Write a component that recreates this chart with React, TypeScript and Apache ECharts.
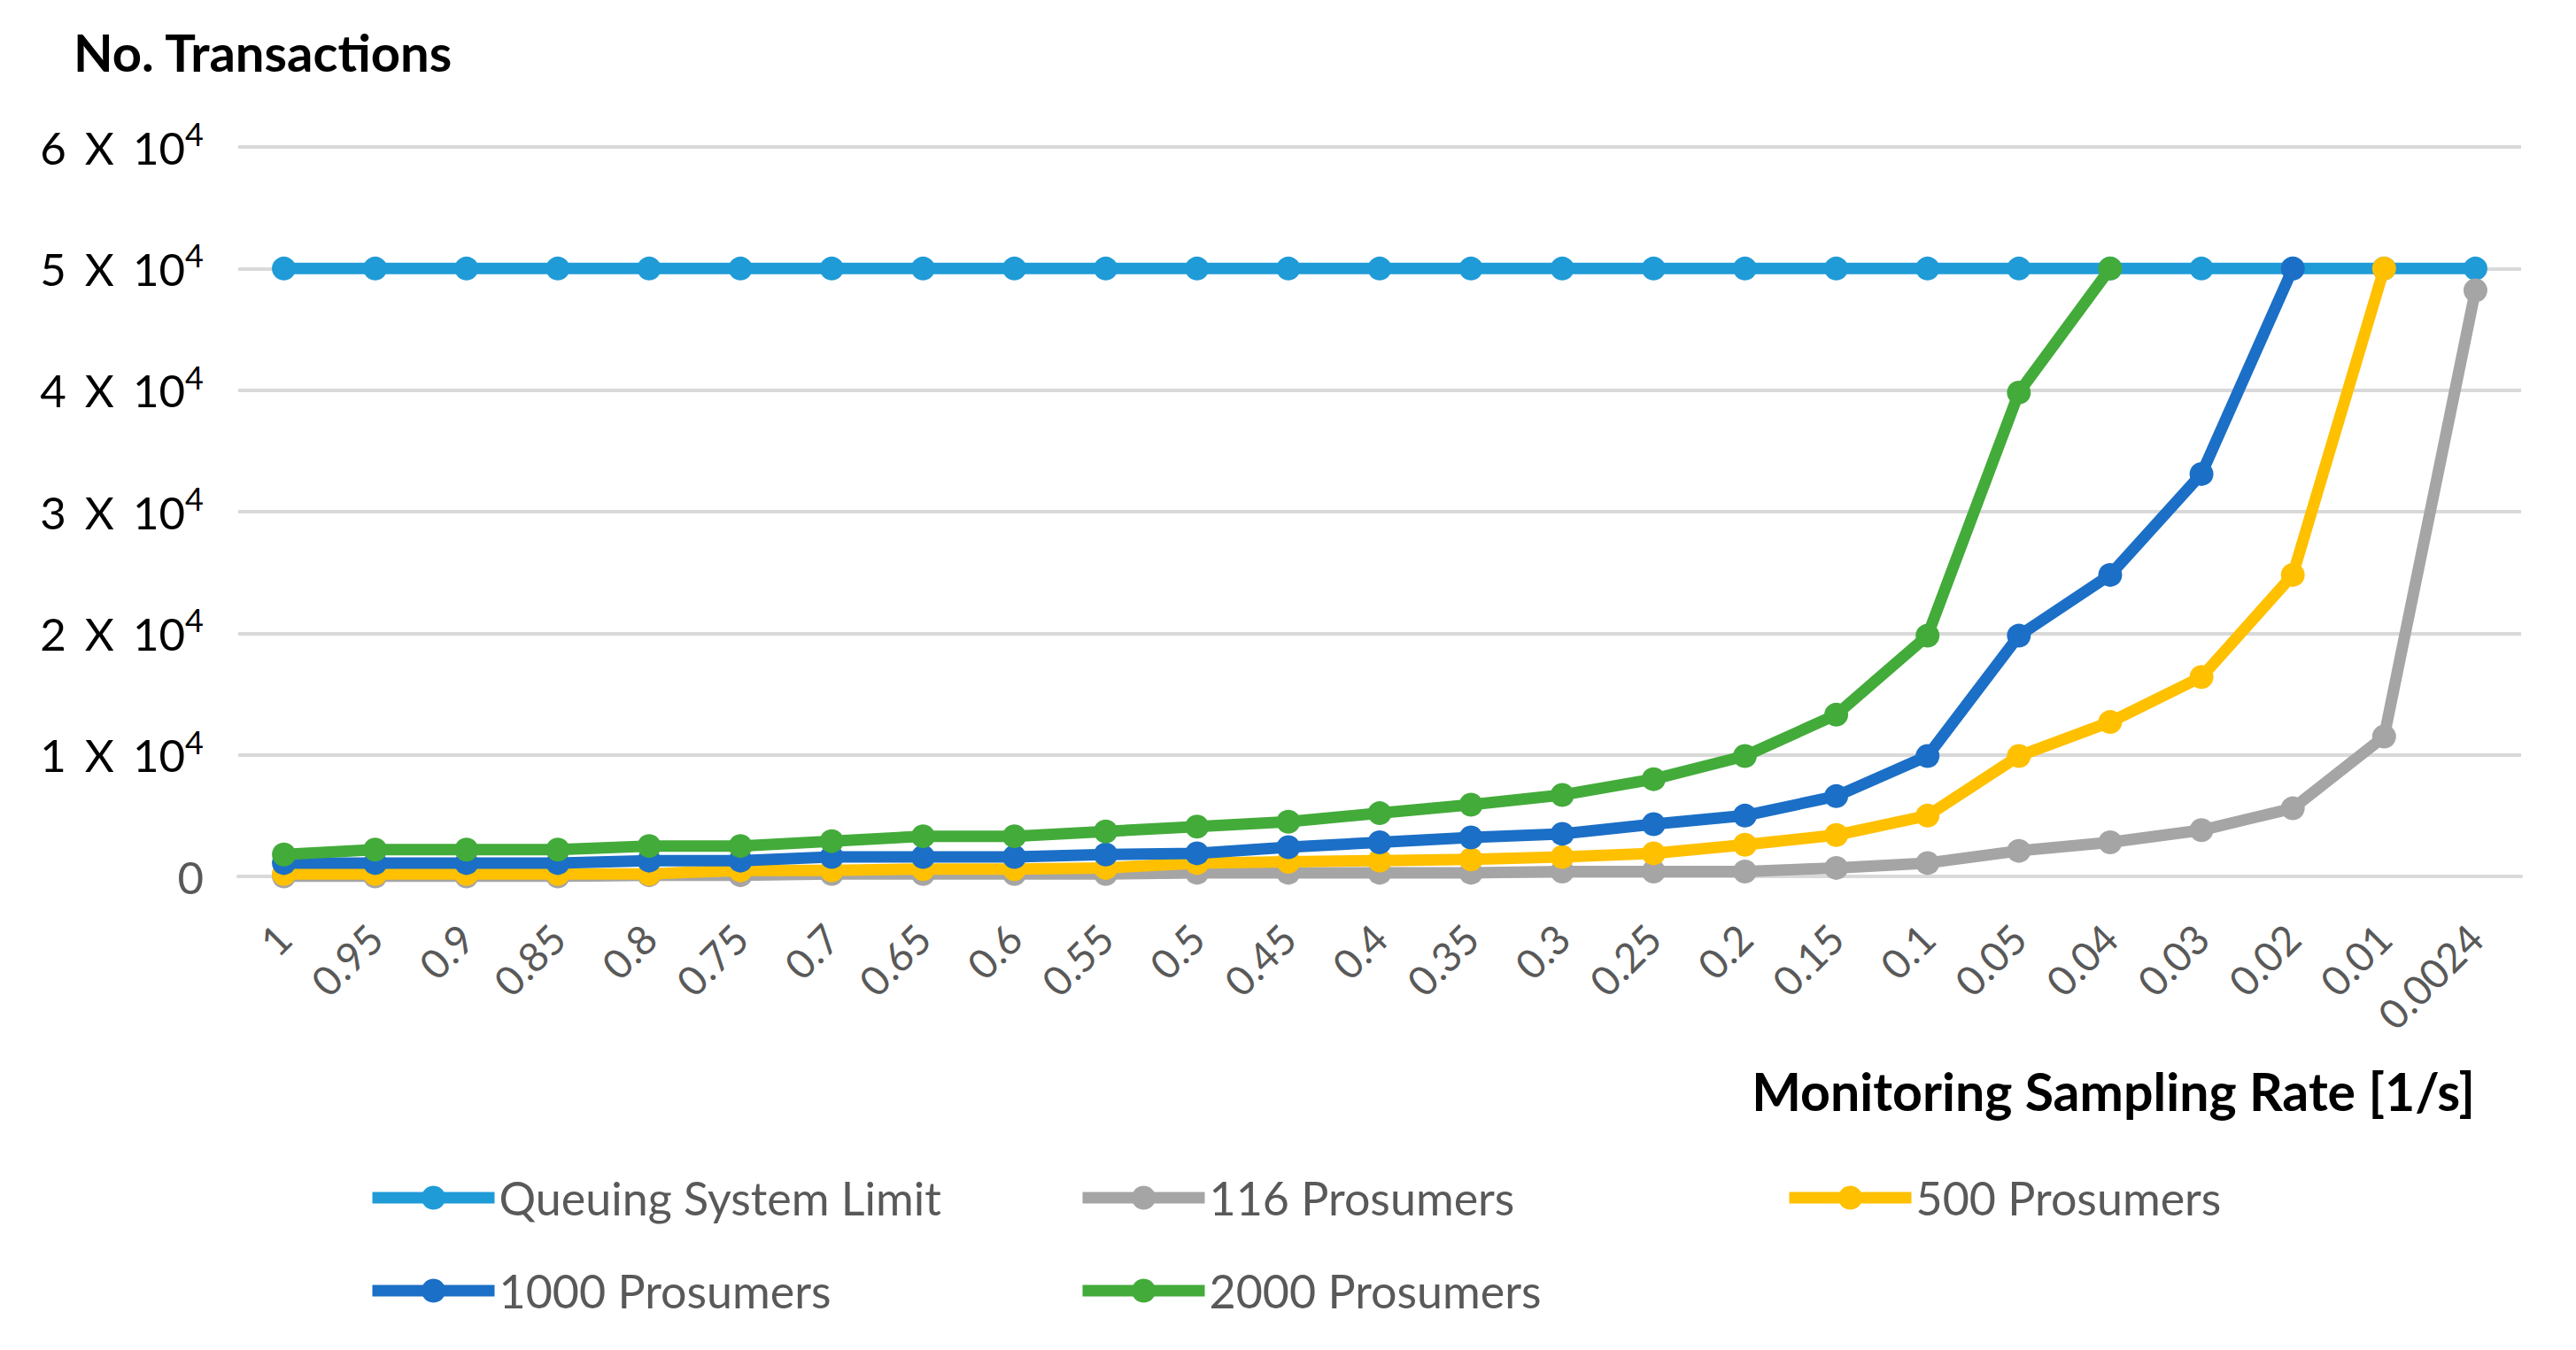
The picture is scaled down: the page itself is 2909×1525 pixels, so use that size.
import React, { useEffect, useRef } from "react";
import * as echarts from "echarts";

const categories = [
  "1", "0.95", "0.9", "0.85", "0.8", "0.75", "0.7", "0.65", "0.6", "0.55",
  "0.5", "0.45", "0.4", "0.35", "0.3", "0.25", "0.2", "0.15", "0.1", "0.05",
  "0.04", "0.03", "0.02", "0.01", "0.0024",
];

const queuingLimit = [
  50000, 50000, 50000, 50000, 50000, 50000, 50000, 50000, 50000, 50000,
  50000, 50000, 50000, 50000, 50000, 50000, 50000, 50000, 50000, 50000,
  50000, 50000, 50000, 50000, 50000,
];

const prosumers116 = [
  0, 0, 0, 0, 100, 100, 200, 200, 200, 200,
  300, 300, 300, 300, 400, 400, 400, 700, 1100, 2100,
  2800, 3800, 5600, 11500, 48200,
];

const prosumers500 = [
  200, 200, 200, 200, 200, 500, 500, 600, 600, 700,
  1100, 1200, 1300, 1400, 1600, 1900, 2600, 3400, 5000, 9900,
  12700, 16400, 24800, 50000, null,
];

const prosumers1000 = [
  1100, 1100, 1100, 1100, 1300, 1300, 1600, 1600, 1600, 1800,
  1900, 2400, 2800, 3200, 3500, 4300, 5000, 6600, 9900, 19800,
  24800, 33100, 50000, null, null,
];

const prosumers2000 = [
  1800, 2200, 2200, 2200, 2500, 2500, 2900, 3300, 3300, 3700,
  4100, 4500, 5200, 5900, 6700, 8000, 9900, 13300, 19800, 39800,
  50000, null, null, null, null,
];

const yTickMantissas = ["0", "1", "2", "3", "4", "5", "6"];
const yExponent = "4";

const seriesNames = [
  "Queuing System Limit",
  "116 Prosumers",
  "500 Prosumers",
  "1000 Prosumers",
  "2000 Prosumers",
];
const seriesColors = ["#1F9BD7", "#A5A5A5", "#FFC000", "#1B6FC6", "#43AB3A"];
const seriesData = [queuingLimit, prosumers116, prosumers500, prosumers1000, prosumers2000];

const FONT = "Lato";

export default function App() {
  const ref = useRef<HTMLDivElement>(null);

  useEffect(() => {
    document.body.style.margin = "0";
    if (!ref.current) return;
    const chart = echarts.init(ref.current, undefined, { renderer: "svg" });

    const legendPos = [
      { left: 414, center: 1353 },
      { left: 1216, center: 1353 },
      { left: 2014, center: 1353 },
      { left: 414, center: 1458 },
      { left: 1216, center: 1458 },
    ];

    const option: any = {
      animation: false,
      backgroundColor: "#ffffff",
      grid: { left: 269, right: 62, top: 166, bottom: 535, containLabel: false },
      xAxis: {
        type: "category",
        data: categories,
        boundaryGap: true,
        axisLine: { show: true, lineStyle: { color: "#D9D9D9", width: 4 } },
        axisTick: { show: false },
        axisLabel: {
          interval: 0,
          rotate: 45,
          margin: 62,
          fontSize: 46,
          fontFamily: FONT,
          color: "#595959",
        },
      },
      yAxis: {
        type: "value",
        min: 0,
        max: 60000,
        interval: 10000,
        axisLine: { show: false },
        axisTick: { show: false },
        splitLine: { show: true, lineStyle: { color: "#D9D9D9", width: 4 } },
        axisLabel: {
          margin: 39,
          formatter: (v: number) => {
            const idx = Math.round(v / 10000);
            const m = yTickMantissas[idx];
            if (idx === 0) return "{z|" + m + "}";
            return "{a|" + m + "}{g| }{a|X}{g| }{a|10}{s|" + yExponent + "}";
          },
          rich: {
            a: { fontSize: 51, fontFamily: FONT, color: "#000000", lineHeight: 66, verticalAlign: "middle" },
            g: { fontSize: 51, fontFamily: FONT, width: 21, lineHeight: 66 },
            s: { fontSize: 36, fontFamily: FONT, color: "#000000", lineHeight: 36, verticalAlign: "top" },
            z: { fontSize: 51, fontFamily: FONT, color: "#595959", lineHeight: 66 },
          },
        },
      },
      legend: seriesNames.map((name, i) => ({
        data: [name],
        left: legendPos[i].left,
        top: legendPos[i].center - 26,
        orient: "horizontal",
        padding: 0,
        itemGap: 0,
        itemWidth: 138,
        itemHeight: 34,
        selectedMode: false,
        lineStyle: { width: 13 },
        textStyle: { fontSize: 52, fontFamily: FONT, color: "#595959", lineHeight: 52 },
      })),
      graphic: [
        {
          type: "text",
          style: {
            x: 83,
            y: 58,
            text: "No. Transactions",
            fontSize: 58,
            fontWeight: "bold",
            fontFamily: FONT,
            fill: "#000000",
            align: "left",
            verticalAlign: "middle",
          },
        },
        {
          type: "text",
          style: {
            x: 2795,
            y: 1232,
            text: "Monitoring Sampling Rate [1/s]",
            fontSize: 59,
            fontWeight: "bold",
            fontFamily: FONT,
            fill: "#000000",
            align: "right",
            verticalAlign: "middle",
          },
        },
      ],
      series: seriesNames.map((name, i) => ({
        name,
        type: "line",
        data: seriesData[i],
        symbol: "circle",
        symbolSize: 27,
        showSymbol: true,
        connectNulls: false,
        lineStyle: { color: seriesColors[i], width: 13 },
        itemStyle: { color: seriesColors[i] },
        z: 2 + i,
      })),
    };

    chart.setOption(option);
    return () => {
      chart.dispose();
    };
  }, []);

  return <div ref={ref} style={{ width: 2909, height: 1525 }} />;
}
